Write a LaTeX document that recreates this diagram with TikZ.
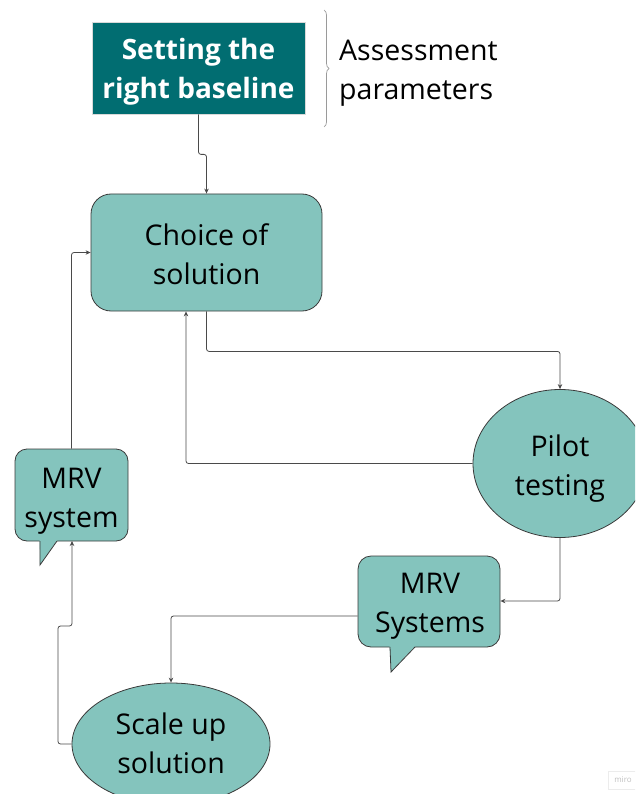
\documentclass[tikz,border=0pt]{standalone}
\usepackage{fontspec}
\setmainfont{Open Sans}
\usetikzlibrary{arrows.meta,decorations.pathreplacing,shapes.geometric}
\definecolor{deepteal}{HTML}{016D71}
\definecolor{softteal}{HTML}{84C4BD}
\definecolor{edgegray}{HTML}{3A3A3A}
\definecolor{wiregray}{HTML}{4A4A4A}
\definecolor{bracegray}{HTML}{9A9A9A}

\begin{document}
\begin{tikzpicture}[x=1pt,y=-1pt,
  every node/.style={font=\fontsize{28.5}{39}\selectfont, align=center, inner sep=0pt, text=black},
  tealbox/.style={draw=edgegray, fill=softteal, line width=0.8pt},
  conn/.style={draw=wiregray, line width=0.8pt, rounded corners=2.5pt,
               -{Stealth[length=5pt,width=4.5pt]}},
  tail/.style={draw=edgegray, line width=0.8pt, line join=miter},
]
\useasboundingbox (0,0) rectangle (635,794);
\begin{scope}
\clip (0,0) rectangle (635,794);

% header box
\node[draw=gray!30, fill=deepteal, line width=0.8pt, minimum width=213pt, minimum height=92pt]
  (base) at (198.5,68) {};
\node[text=white, font=\fontsize{28}{39}\selectfont\bfseries] (base-label) at (198.5,72)
  {Setting the\\right baseline};

% brace and its label
\draw[bracegray, line width=0.7pt, decorate, decoration={brace, amplitude=5pt}]
  (324,10) -- (324,127);
\node[anchor=west, align=left] (params) at (339,73.5) {Assessment\\parameters};

% main steps
\node[tealbox, rounded corners=20pt, minimum width=231pt, minimum height=117pt] (choice)
  at (206.5,252.5) {};
\node (choice-label) at (206.5,254.5) {Choice of\\solution};

\node[tealbox, ellipse, minimum width=174pt, minimum height=148pt] (pilot)
  at (560,463.5) {};
\node (pilot-label) at (560,469) {Pilot\\testing};

\node[tealbox, ellipse, minimum width=198pt, minimum height=122pt] (scale)
  at (171,744) {};
\node (scale-label) at (171,743.5) {Scale up\\solution};

% speech bubbles
\node[tealbox, rounded corners=13pt, minimum width=142pt, minimum height=91pt] (mrvs)
  at (429,601.5) {};
\fill[softteal] (389.6,646) -- (391,672) -- (415.4,646) -- cycle;
\draw[tail] (390,647) -- (391,672) -- (415,647);
\node (mrvs-label) at (430,606) {MRV\\Systems};

\node[tealbox, rounded corners=12pt, minimum width=113pt, minimum height=92pt] (mrv)
  at (71.5,495) {};
\fill[softteal] (39.6,540) -- (40,565) -- (57.4,540) -- cycle;
\draw[tail] (40,541) -- (40,565) -- (57,541);
\node (mrv-label) at (71.5,501) {MRV\\system};

% connectors
\draw[conn] (base.south) -- ++(0,40) -| (choice.north);
\draw[conn] (choice.south) -- ++(0,40) -| (pilot.north);
\draw[conn] (pilot.west) -| (186,311.4);
\draw[conn] (pilot.south) |- (mrvs.east |- 0,601);
\draw[conn] (mrvs.west |- 0,616) -| (scale.north);
\draw[conn] (scale.west) -- (58,744) -- (58,626) -- (72,626) -- (72,541);
\draw[conn] (mrv.north) |- (choice.west);

% watermark
\node[draw=gray!15, line width=0.5pt, minimum width=30pt, minimum height=18pt,
      text=gray!50, font=\fontsize{8}{9}\selectfont] (mark) at (623,780) {miro};
\end{scope}
\end{tikzpicture}
\end{document}
